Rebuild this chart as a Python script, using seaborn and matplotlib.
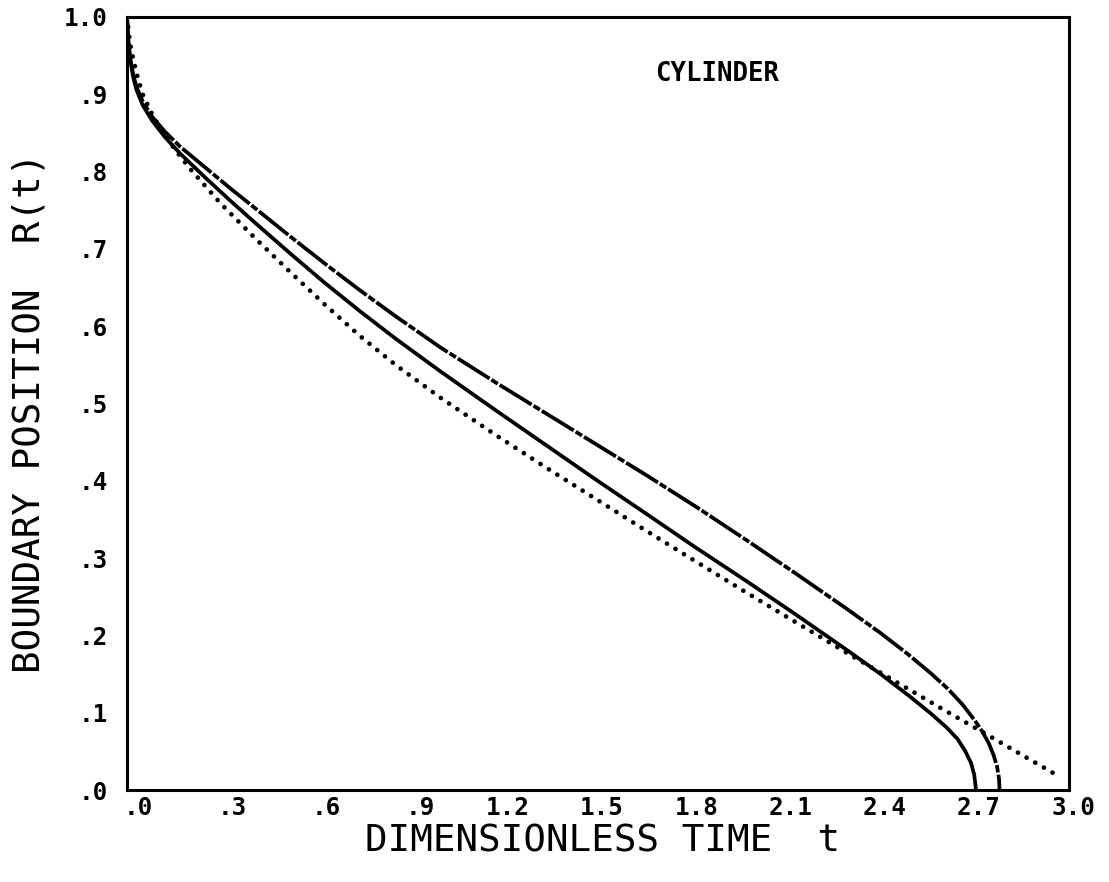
import matplotlib
matplotlib.use("Agg")
import matplotlib.pyplot as plt
import seaborn as sns
import pandas as pd
from matplotlib.ticker import MultipleLocator
from matplotlib.transforms import ScaledTranslation

# Boundary position R(t) of a cylinder versus dimensionless time t
solid_t = [0.0, 0.004, 0.01, 0.02, 0.03, 0.05, 0.08, 0.12, 0.17, 0.25, 0.33, 0.41,
           0.52, 0.63, 0.74, 0.855, 1.0, 1.175, 1.335, 1.495, 1.655, 1.81, 1.97,
           2.13, 2.293, 2.40, 2.49, 2.56, 2.61, 2.645, 2.67, 2.688, 2.698, 2.704]
solid_R = [1.0, 0.97, 0.945, 0.922, 0.906, 0.886, 0.866, 0.845, 0.823, 0.792, 0.762,
           0.733, 0.694, 0.656, 0.620, 0.584, 0.541, 0.491, 0.446, 0.401, 0.357,
           0.314, 0.271, 0.227, 0.181, 0.150, 0.122, 0.099, 0.081, 0.066, 0.050,
           0.035, 0.020, 0.0]

dashdot_t = [0.0, 0.004, 0.01, 0.02, 0.03, 0.05, 0.08, 0.12, 0.17, 0.25, 0.33,
             0.41, 0.52, 0.63, 0.74, 0.855, 1.0, 1.175, 1.335, 1.495, 1.655, 1.81,
             1.97, 2.13, 2.29, 2.40, 2.486, 2.56, 2.614, 2.66, 2.70, 2.725, 2.745,
             2.76, 2.771, 2.777, 2.779]
dashdot_R = [1.0, 0.97, 0.947, 0.925, 0.910, 0.891, 0.871, 0.852, 0.832, 0.805,
             0.778, 0.752, 0.716, 0.681, 0.647, 0.613, 0.572, 0.527, 0.487, 0.447,
             0.407, 0.367, 0.324, 0.280, 0.235, 0.203, 0.176, 0.151, 0.131, 0.111,
             0.090, 0.075, 0.060, 0.045, 0.030, 0.015, 0.0]

dotted_t = [0.0, 0.01, 0.02, 0.035, 0.05, 0.075, 0.10, 0.15, 0.20, 0.30, 0.41, 0.52,
            0.63, 0.74, 0.855, 1.0, 1.175, 1.335, 1.495, 1.655, 1.81, 1.97, 2.13,
            2.29, 2.453, 2.60, 2.75, 2.86, 2.971]
dotted_R = [1.0, 0.965, 0.945, 0.92, 0.90, 0.878, 0.860, 0.830, 0.804, 0.758, 0.713,
            0.670, 0.628, 0.588, 0.550, 0.507, 0.459, 0.417, 0.376, 0.335, 0.296,
            0.256, 0.217, 0.178, 0.139, 0.104, 0.069, 0.043, 0.017]

x_ticks = [0.0, 0.3, 0.6, 0.9, 1.2, 1.5, 1.8, 2.1, 2.4, 2.7, 3.0]
x_tick_labels = [".0", ".3", ".6", ".9", "1.2", "1.5", "1.8", "2.1", "2.4", "2.7", "3.0"]
y_ticks = [0.0, 0.1, 0.2, 0.3, 0.4, 0.5, 0.6, 0.7, 0.8, 0.9, 1.0]
y_tick_labels = [".0", ".1", ".2", ".3", ".4", ".5", ".6", ".7", ".8", ".9", "1.0"]

sns.set_style("white")
plt.rcParams["font.family"] = ["DejaVu Sans Mono", "DejaVu Sans"]
plt.rcParams["text.color"] = "black"
plt.rcParams["axes.labelcolor"] = "black"

W, H = 1109, 882
fig = plt.figure(figsize=(W / 100, H / 100), dpi=100)
ax = fig.add_axes([127 / W, 1 - 790 / H, 942 / W, 773 / H])

solid = pd.DataFrame({"t": solid_t, "R": solid_R})
dashdot = pd.DataFrame({"t": dashdot_t, "R": dashdot_R})
dotted = pd.DataFrame({"t": dotted_t, "R": dotted_R})

sns.lineplot(data=solid, x="t", y="R", ax=ax, color="black", lw=2.7,
             solid_capstyle="butt", solid_joinstyle="round")
sns.lineplot(data=dashdot, x="t", y="R", ax=ax, color="black", lw=2.7,
             linestyle=(0, (10, 0.6, 2, 0.6)), dash_capstyle="butt",
             dash_joinstyle="round")
sns.lineplot(data=dotted, x="t", y="R", ax=ax, color="black", lw=3.4,
             linestyle=(0, (0.01, 2.1)), dash_capstyle="round")

ax.set_xlim(0, 3.0)
ax.set_ylim(0, 1.0)

ax.set_xticks(x_ticks)
ax.set_xticklabels(x_tick_labels)
ax.set_yticks(y_ticks)
ax.set_yticklabels(y_tick_labels)
ax.xaxis.set_minor_locator(MultipleLocator(0.15))
ax.yaxis.set_minor_locator(MultipleLocator(0.05))

ax.tick_params(which="both", direction="in", top=False, right=False,
               color="black", width=2.2, labelsize=17.5, labelcolor="black")
ax.tick_params(axis="x", which="major", length=13, pad=4)
ax.tick_params(axis="x", which="minor", length=7)
ax.tick_params(axis="y", which="major", length=13, pad=14)
ax.tick_params(axis="y", which="minor", length=8.5)

for lab in ax.get_xticklabels() + ax.get_yticklabels():
    lab.set_fontweight("bold")

for lab in ax.get_xticklabels():
    dx = 11 if lab.get_text().startswith(".") else 4
    lab.set_transform(lab.get_transform() +
                      ScaledTranslation(dx / 100, 0, fig.dpi_scale_trans))

for side in ["left", "right", "top", "bottom"]:
    ax.spines[side].set_visible(True)
    ax.spines[side].set_linewidth(2.2)
    ax.spines[side].set_color("black")

ax.text(0.626, 0.926, "CYLINDER", transform=ax.transAxes, ha="center",
        va="center", fontsize=18.5, fontweight="bold", color="black")

ax.set_xlabel("DIMENSIONLESS TIME  t", fontsize=27, va="center", ha="right",
              color="black")
ax.xaxis.set_label_coords(0.757, -0.066)
ax.set_ylabel("BOUNDARY POSITION  R(t)", fontsize=27, va="center", color="black")
ax.yaxis.set_label_coords(-0.103, 0.488)

fig.savefig("out.png", dpi=100)
